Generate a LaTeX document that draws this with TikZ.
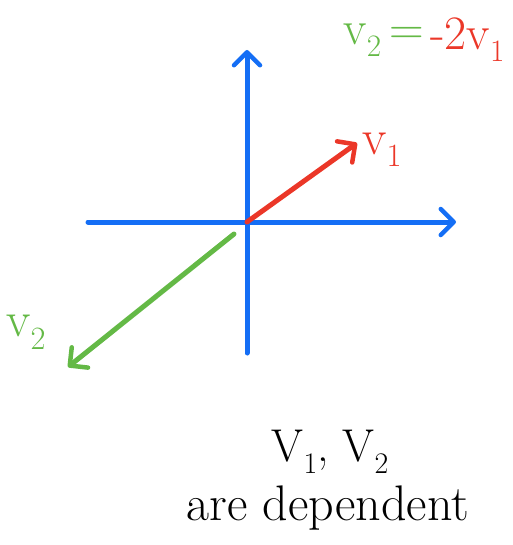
\documentclass[tikz,border=0pt]{standalone}
\usepackage{fontspec}
\usetikzlibrary{arrows.meta}
\definecolor{axblue}{RGB}{20,110,245}
\definecolor{vred}{RGB}{235,55,40}
\definecolor{vgreen}{RGB}{100,185,70}
\newcommand\vsubx[2]{#1\raisebox{-0.25em}{\scalebox{0.65}{#2}}}
\begin{document}
\begin{tikzpicture}[x=1pt,y=-1pt,
  pen/.style={line width=5pt,line cap=round,line join=round},
  tip/.style={-{Straight Barb[length=13pt,width=26pt,line width=4.5pt,round]}},
  lbl/.style={inner sep=0pt,font=\fontsize{#1}{#1}\selectfont}]
\useasboundingbox (0,0) rectangle (512,545);
\coordinate (O) at (247,222);
\coordinate (xl) at (88,222);
\coordinate (xr) at (456,222);
\coordinate (yb) at (247,353);
\coordinate (yt) at (247,50);
\coordinate (r1) at (357,143);
\coordinate (g0) at (234,234);
\coordinate (g1) at (68,367);
\draw[pen,axblue,tip] (xl) -- (xr);
\draw[pen,axblue,tip] (yb) -- (yt);
\draw[pen,vred,tip] (O) -- (r1);
\draw[pen,vgreen,tip] (g0) -- (g1);
\node[lbl=50,text=vred] (lv1) at (382,150) {\vsubx{v}{1}};
\node[lbl=50,text=vgreen] (lv2) at (26,332) {\vsubx{v}{2}};
\node[lbl=48,text=vgreen,anchor=east] (eql) at (424,40) {\vsubx{v}{2}\,=};
\node[lbl=48,text=vred,anchor=west] (eqr) at (430,40) {-2\vsubx{v}{1}};
\node[lbl=46] (t1) at (330,452) {\vsubx{V}{1}, \vsubx{V}{2}};
\node[lbl=50] (t2) at (328,508) {are dependent};
\end{tikzpicture}
\end{document}
